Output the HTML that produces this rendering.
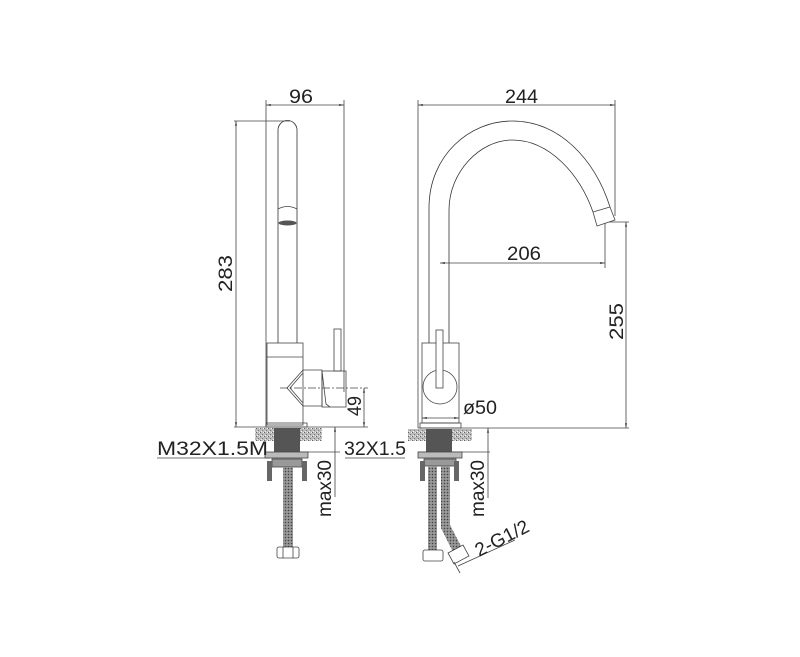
<!DOCTYPE html>
<html><head><style>
html,body{margin:0;padding:0;background:#fff;}
svg{display:block;}
text{font-family:"Liberation Sans",sans-serif;fill:#222;}
</style></head><body>
<svg width="800" height="657" viewBox="0 0 800 657" xmlns="http://www.w3.org/2000/svg">
<defs>
<pattern id="sp" width="4" height="4" patternUnits="userSpaceOnUse">
<rect width="4" height="4" fill="#bbb"/><rect x="0" y="0" width="1" height="1" fill="#666"/><rect x="2" y="2" width="1" height="1" fill="#777"/><rect x="3" y="0" width="1" height="1" fill="#eee"/><rect x="1" y="3" width="1" height="1" fill="#eee"/>
</pattern>
<pattern id="hs" width="3" height="3" patternUnits="userSpaceOnUse">
<rect width="3" height="3" fill="#888"/><rect width="1" height="1" fill="#444"/><rect x="1.5" y="1.5" width="1" height="1" fill="#ccc"/>
</pattern>
<marker id="a" viewBox="0 0 10 10" refX="10" refY="5" markerWidth="6" markerHeight="6" orient="auto-start-reverse"><path d="M0,3 L10,5 L0,7z" fill="#333"/></marker>
</defs>
<g stroke="#444" stroke-width="0.8" fill="none">
<line x1="266" y1="100" x2="266" y2="427"/>
<line x1="344" y1="100" x2="344" y2="392"/>
<line x1="266" y1="105" x2="344" y2="105" marker-start="url(#a)" marker-end="url(#a)"/>
<line x1="234" y1="121" x2="290" y2="121"/>
<line x1="236" y1="121" x2="236" y2="427" marker-start="url(#a)" marker-end="url(#a)"/>
<line x1="234" y1="427" x2="368" y2="427"/>
<line x1="364" y1="388" x2="364" y2="427" marker-start="url(#a)" marker-end="url(#a)"/>
<line x1="280" y1="388" x2="368" y2="388" stroke-dasharray="8,2,2,2"/>
<line x1="335" y1="427" x2="335" y2="497" marker-start="url(#a)"/>
<line x1="157" y1="458" x2="270" y2="458"/>
<line x1="300" y1="452" x2="340" y2="452"/>
<line x1="345" y1="458" x2="405" y2="458"/>
<path d="M278,343 V130 A9.5,9.5 0 0 1 297,130 V343" stroke="#333"/>
<path d="M278,209 Q287.5,204 297,209" />
<ellipse cx="287.5" cy="223" rx="9" ry="2.5" fill="#555" stroke="none"/>
<rect x="267" y="343" width="36" height="82"/>
<line x1="267" y1="357" x2="303" y2="357"/>
<rect x="266" y="423" width="41" height="4"/>
<path d="M303,370 L287,388 L303,406 M303,373 L290,388 L303,403"/>
<path d="M303,370 H322 V406 H303"/>
<rect x="322" y="371" width="24" height="36"/>
<path d="M322,371 L326,404 L330,407"/>
<rect x="334" y="329" width="7" height="42"/>
<rect x="255" y="428" width="67" height="13" fill="url(#sp)" stroke="none"/>
<rect x="274" y="428" width="26" height="24" fill="#555" stroke="none"/>
<rect x="265" y="452" width="43" height="6" fill="#bbb"/>
<rect x="272" y="459" width="30" height="8" fill="#999"/>
<rect x="267" y="461" width="5" height="20" fill="#666" stroke="none"/>
<rect x="302" y="461" width="5" height="20" fill="#666" stroke="none"/>
<rect x="283" y="467" width="10" height="80" fill="url(#hs)" stroke="none"/>
<rect x="277" y="547" width="22" height="11" rx="2" fill="#fff"/>
<line x1="283" y1="547" x2="283" y2="558"/><line x1="293" y1="547" x2="293" y2="558"/>

<line x1="418" y1="100" x2="418" y2="428"/>
<line x1="615" y1="100" x2="615" y2="216"/>
<line x1="418" y1="105" x2="615" y2="105" marker-start="url(#a)" marker-end="url(#a)"/>
<line x1="440" y1="263" x2="605" y2="263" marker-start="url(#a)" marker-end="url(#a)"/>
<line x1="605" y1="222" x2="605" y2="268"/>
<line x1="600" y1="222" x2="629" y2="222"/>
<line x1="626" y1="222" x2="626" y2="428" marker-start="url(#a)" marker-end="url(#a)"/>
<line x1="418" y1="428" x2="629" y2="428"/>
<line x1="422" y1="418" x2="459" y2="418" marker-start="url(#a)" marker-end="url(#a)"/>
<line x1="488" y1="428" x2="488" y2="498" marker-start="url(#a)"/>
<line x1="418" y1="452" x2="490" y2="452"/>
<path d="M429,343 V208 C429,155 470,121 512,121 C560,121 595,160 610,207" stroke="#333"/>
<path d="M449,343 V210 C449,172 480,140 512,140 C550,140 580,175 593,212" stroke="#333"/>
<path d="M593,212 L610,207 L615,220 L597,226 Z" fill="#fff"/>
<rect x="422" y="343" width="37" height="80"/>
<circle cx="440" cy="387" r="17" fill="#fff"/>
<rect x="436" y="330" width="7" height="58" fill="#fff"/>
<rect x="420" y="423" width="41" height="5"/>
<rect x="408" y="429" width="64" height="12" fill="url(#sp)" stroke="none"/>
<rect x="426" y="429" width="26" height="23" fill="#555" stroke="none"/>
<rect x="418" y="452" width="44" height="6" fill="#bbb"/>
<rect x="424" y="459" width="32" height="7" fill="#999"/>
<rect x="420" y="461" width="5" height="20" fill="#666" stroke="none"/>
<rect x="454" y="461" width="5" height="20" fill="#666" stroke="none"/>
<rect x="428" y="466" width="9" height="84" fill="url(#hs)" stroke="none"/>
<path d="M441,466 H450 V525 L462,548 L453,552 L441,528 Z" fill="url(#hs)" stroke="none"/>
<rect x="423" y="550" width="20" height="11" rx="2" fill="#fff"/>
<path d="M448,553 L463,545 L469,556 L454,564 Z" fill="#fff"/>
<line x1="458" y1="566" x2="515" y2="540"/>
<line x1="454" y1="562" x2="460" y2="573"/>
</g>
<g font-size="19">
<text x="289" y="103" textLength="24" lengthAdjust="spacingAndGlyphs">96</text>
<text x="505" y="103" textLength="33" lengthAdjust="spacingAndGlyphs">244</text>
<text x="507" y="260" textLength="34" lengthAdjust="spacingAndGlyphs">206</text>
<text transform="translate(232,292) rotate(-90)" textLength="37" lengthAdjust="spacingAndGlyphs">283</text>
<text transform="translate(623,340) rotate(-90)" textLength="37" lengthAdjust="spacingAndGlyphs">255</text>
<text transform="translate(361,416) rotate(-90)" textLength="20" lengthAdjust="spacingAndGlyphs">49</text>
<text transform="translate(331,517) rotate(-90)" textLength="57" lengthAdjust="spacingAndGlyphs">max30</text>
<text transform="translate(484,517) rotate(-90)" textLength="57" lengthAdjust="spacingAndGlyphs">max30</text>
<text x="157" y="455" textLength="111" lengthAdjust="spacingAndGlyphs">M32X1.5M</text>
<text x="344" y="455" textLength="62" lengthAdjust="spacingAndGlyphs">32X1.5</text>
<text x="463" y="414" textLength="34" lengthAdjust="spacingAndGlyphs">ø50</text>
<text transform="translate(479,557) rotate(-27)" textLength="58" lengthAdjust="spacingAndGlyphs">2-G1/2</text>
</g>
</svg>
</body></html>
